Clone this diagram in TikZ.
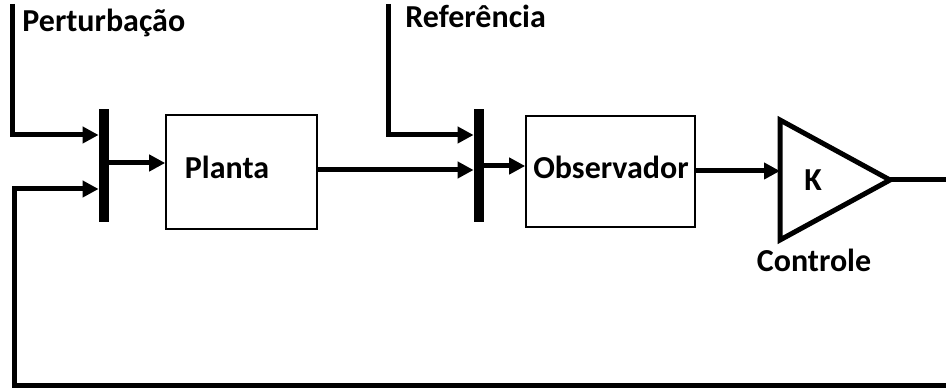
\documentclass[tikz,border=0pt]{standalone}
\usepackage{fontspec}
\setmainfont{Carlito}
\usetikzlibrary{arrows.meta}

\tikzset{
  sig/.style={line width=2.5pt, -{Triangle[length=8pt,width=8pt]}},
  wire/.style={line width=2.5pt},
  sumbar/.style={fill=black, inner sep=0pt, minimum width=5pt, minimum height=56.5pt},
  block/.style={draw, line width=0.8pt, inner sep=0pt},
  lbl/.style={font=\bfseries\fontsize{16}{18}\selectfont, inner sep=0pt}
}

\begin{document}
\begin{tikzpicture}[x=0.5pt, y=-0.5pt]
  \useasboundingbox (0,0) rectangle (946,389);

  % Summing bars
  \node[sumbar] (s1) at (104,165.5) {};
  \node[sumbar] (s2) at (479,165.5) {};

  % Blocks
  \node[block, minimum width=75.5pt, minimum height=57pt] (planta) at (241.5,172) {};
  \node[lbl, anchor=base] at (227,179) {Planta};
  \node[block, minimum width=84.5pt, minimum height=55.5pt] (obs) at (610.5,171.5) {};
  \node[lbl, anchor=base] (obstxt) at (611,179) {Observador};

  % Gain
  \draw[line width=2.5pt, line join=miter] (780,120) -- (890,180) -- (780,240) -- cycle;
  \node[lbl, anchor=base] (K) at (813,191) {K};
  \node[lbl, anchor=base] (ctrl) at (814,272) {Controle};
  \coordinate (kin) at (780,171);
  \coordinate (kout) at (890,180);

  % Inputs
  \coordinate (pert) at (12,4);
  \coordinate (ref) at (388,4);
  \node[lbl, anchor=base west] (perttxt) at (22,32) {Perturbação};
  \node[lbl, anchor=base west] (reftxt) at (405,28) {Referência};
  \draw[sig] (pert) |- (s1.west |- 0,135);
  \draw[sig] (ref) |- (s2.west |- 0,135);

  % Forward path
  \draw[sig] (s1.east |- 0,163) -- (planta.west |- 0,163);
  \draw[sig] (planta.east |- 0,170) -- (s2.west |- 0,170);
  \draw[sig] (s2.east |- 0,166) -- (obs.west |- 0,166);
  \draw[sig] (obs.east |- kin) -- (kin);

  % Feedback
  \coordinate (out) at (946,180);
  \coordinate (back) at (946,385);
  \draw[wire] (kout) -- (out);
  \draw[sig] (back) -| (14,189) -- (s1.west |- 0,189);
\end{tikzpicture}
\end{document}
